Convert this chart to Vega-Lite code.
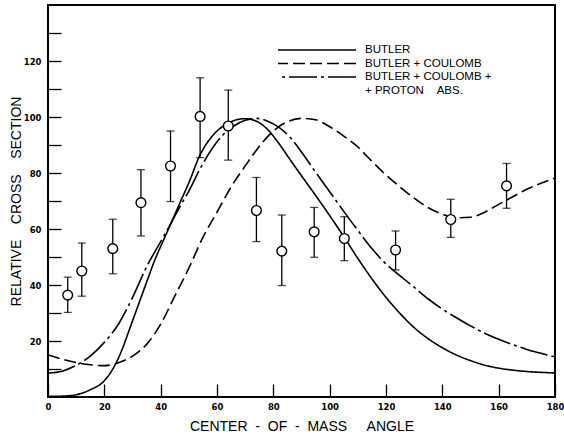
{
  "$schema": "https://vega.github.io/schema/vega-lite/v6.json",
  "width": 507,
  "height": 392,
  "autosize": {"type": "none"},
  "padding": {"left": 48, "top": 5, "right": 9, "bottom": 39},
  "background": "white",
  "datasets": {
    "curves": [
      {"model": "BUTLER", "angle": 0, "value": 0.2},
      {"model": "BUTLER", "angle": 5, "value": 0.3},
      {"model": "BUTLER", "angle": 10, "value": 0.8},
      {"model": "BUTLER", "angle": 15, "value": 2.6},
      {"model": "BUTLER", "angle": 20, "value": 5.8},
      {"model": "BUTLER", "angle": 23, "value": 10},
      {"model": "BUTLER", "angle": 26, "value": 16.2},
      {"model": "BUTLER", "angle": 29, "value": 24.4},
      {"model": "BUTLER", "angle": 32, "value": 32.7},
      {"model": "BUTLER", "angle": 35, "value": 41},
      {"model": "BUTLER", "angle": 38, "value": 49.1},
      {"model": "BUTLER", "angle": 41, "value": 56},
      {"model": "BUTLER", "angle": 44, "value": 62.8},
      {"model": "BUTLER", "angle": 47, "value": 69.7},
      {"model": "BUTLER", "angle": 50, "value": 76.5},
      {"model": "BUTLER", "angle": 54, "value": 86.5},
      {"model": "BUTLER", "angle": 58, "value": 92.8},
      {"model": "BUTLER", "angle": 62, "value": 96.6},
      {"model": "BUTLER", "angle": 66, "value": 98.7},
      {"model": "BUTLER", "angle": 70, "value": 99.4},
      {"model": "BUTLER", "angle": 74, "value": 98.5},
      {"model": "BUTLER", "angle": 78, "value": 95.5},
      {"model": "BUTLER", "angle": 82, "value": 90.5},
      {"model": "BUTLER", "angle": 86, "value": 84.7},
      {"model": "BUTLER", "angle": 90, "value": 79},
      {"model": "BUTLER", "angle": 95, "value": 72},
      {"model": "BUTLER", "angle": 100, "value": 64.8},
      {"model": "BUTLER", "angle": 105, "value": 57.3},
      {"model": "BUTLER", "angle": 110, "value": 49.5},
      {"model": "BUTLER", "angle": 115, "value": 42.2},
      {"model": "BUTLER", "angle": 120, "value": 35.6},
      {"model": "BUTLER", "angle": 125, "value": 29.8},
      {"model": "BUTLER", "angle": 130, "value": 24.8},
      {"model": "BUTLER", "angle": 135, "value": 20.8},
      {"model": "BUTLER", "angle": 140, "value": 17.6},
      {"model": "BUTLER", "angle": 145, "value": 15},
      {"model": "BUTLER", "angle": 150, "value": 13},
      {"model": "BUTLER", "angle": 155, "value": 11.4},
      {"model": "BUTLER", "angle": 160, "value": 10.3},
      {"model": "BUTLER", "angle": 165, "value": 9.6},
      {"model": "BUTLER", "angle": 170, "value": 9.1},
      {"model": "BUTLER", "angle": 175, "value": 8.8},
      {"model": "BUTLER", "angle": 180, "value": 8.6},

      {"model": "BUTLER + COULOMB", "angle": 0, "value": 15},
      {"model": "BUTLER + COULOMB", "angle": 5, "value": 13.5},
      {"model": "BUTLER + COULOMB", "angle": 10, "value": 12.3},
      {"model": "BUTLER + COULOMB", "angle": 15, "value": 11.5},
      {"model": "BUTLER + COULOMB", "angle": 20, "value": 11.2},
      {"model": "BUTLER + COULOMB", "angle": 25, "value": 12.2},
      {"model": "BUTLER + COULOMB", "angle": 30, "value": 14.6},
      {"model": "BUTLER + COULOMB", "angle": 35, "value": 18.8},
      {"model": "BUTLER + COULOMB", "angle": 40, "value": 26},
      {"model": "BUTLER + COULOMB", "angle": 45, "value": 36},
      {"model": "BUTLER + COULOMB", "angle": 50, "value": 46},
      {"model": "BUTLER + COULOMB", "angle": 55, "value": 57},
      {"model": "BUTLER + COULOMB", "angle": 60, "value": 66},
      {"model": "BUTLER + COULOMB", "angle": 65, "value": 75},
      {"model": "BUTLER + COULOMB", "angle": 70, "value": 82.5},
      {"model": "BUTLER + COULOMB", "angle": 75, "value": 89.5},
      {"model": "BUTLER + COULOMB", "angle": 80, "value": 95},
      {"model": "BUTLER + COULOMB", "angle": 85, "value": 98.3},
      {"model": "BUTLER + COULOMB", "angle": 90, "value": 99.5},
      {"model": "BUTLER + COULOMB", "angle": 95, "value": 99},
      {"model": "BUTLER + COULOMB", "angle": 100, "value": 96.5},
      {"model": "BUTLER + COULOMB", "angle": 105, "value": 93.2},
      {"model": "BUTLER + COULOMB", "angle": 110, "value": 89.3},
      {"model": "BUTLER + COULOMB", "angle": 115, "value": 84.2},
      {"model": "BUTLER + COULOMB", "angle": 120, "value": 79.3},
      {"model": "BUTLER + COULOMB", "angle": 125, "value": 75},
      {"model": "BUTLER + COULOMB", "angle": 130, "value": 71},
      {"model": "BUTLER + COULOMB", "angle": 135, "value": 67.6},
      {"model": "BUTLER + COULOMB", "angle": 140, "value": 65.3},
      {"model": "BUTLER + COULOMB", "angle": 145, "value": 64},
      {"model": "BUTLER + COULOMB", "angle": 150, "value": 64.2},
      {"model": "BUTLER + COULOMB", "angle": 155, "value": 66},
      {"model": "BUTLER + COULOMB", "angle": 160, "value": 68.8},
      {"model": "BUTLER + COULOMB", "angle": 165, "value": 71.5},
      {"model": "BUTLER + COULOMB", "angle": 170, "value": 74.2},
      {"model": "BUTLER + COULOMB", "angle": 175, "value": 76.3},
      {"model": "BUTLER + COULOMB", "angle": 180, "value": 78.2},

      {"model": "BUTLER + COULOMB + PROTON ABS.", "angle": 0, "value": 8.5},
      {"model": "BUTLER + COULOMB + PROTON ABS.", "angle": 5, "value": 9.2},
      {"model": "BUTLER + COULOMB + PROTON ABS.", "angle": 10, "value": 11.3},
      {"model": "BUTLER + COULOMB + PROTON ABS.", "angle": 15, "value": 14.6},
      {"model": "BUTLER + COULOMB + PROTON ABS.", "angle": 20, "value": 19.5},
      {"model": "BUTLER + COULOMB + PROTON ABS.", "angle": 25, "value": 26},
      {"model": "BUTLER + COULOMB + PROTON ABS.", "angle": 30, "value": 35.5},
      {"model": "BUTLER + COULOMB + PROTON ABS.", "angle": 35, "value": 46.5},
      {"model": "BUTLER + COULOMB + PROTON ABS.", "angle": 40, "value": 55.5},
      {"model": "BUTLER + COULOMB + PROTON ABS.", "angle": 43, "value": 60.8},
      {"model": "BUTLER + COULOMB + PROTON ABS.", "angle": 47, "value": 68.3},
      {"model": "BUTLER + COULOMB + PROTON ABS.", "angle": 50, "value": 73.5},
      {"model": "BUTLER + COULOMB + PROTON ABS.", "angle": 54, "value": 81.5},
      {"model": "BUTLER + COULOMB + PROTON ABS.", "angle": 58, "value": 88.3},
      {"model": "BUTLER + COULOMB + PROTON ABS.", "angle": 62, "value": 93.5},
      {"model": "BUTLER + COULOMB + PROTON ABS.", "angle": 66, "value": 96.8},
      {"model": "BUTLER + COULOMB + PROTON ABS.", "angle": 70, "value": 98.8},
      {"model": "BUTLER + COULOMB + PROTON ABS.", "angle": 74, "value": 99.5},
      {"model": "BUTLER + COULOMB + PROTON ABS.", "angle": 78, "value": 98.5},
      {"model": "BUTLER + COULOMB + PROTON ABS.", "angle": 82, "value": 96.3},
      {"model": "BUTLER + COULOMB + PROTON ABS.", "angle": 86, "value": 92.7},
      {"model": "BUTLER + COULOMB + PROTON ABS.", "angle": 90, "value": 87.5},
      {"model": "BUTLER + COULOMB + PROTON ABS.", "angle": 95, "value": 80.3},
      {"model": "BUTLER + COULOMB + PROTON ABS.", "angle": 100, "value": 73.3},
      {"model": "BUTLER + COULOMB + PROTON ABS.", "angle": 105, "value": 66.3},
      {"model": "BUTLER + COULOMB + PROTON ABS.", "angle": 110, "value": 59.5},
      {"model": "BUTLER + COULOMB + PROTON ABS.", "angle": 115, "value": 53},
      {"model": "BUTLER + COULOMB + PROTON ABS.", "angle": 120, "value": 47.5},
      {"model": "BUTLER + COULOMB + PROTON ABS.", "angle": 125, "value": 43.3},
      {"model": "BUTLER + COULOMB + PROTON ABS.", "angle": 130, "value": 39.2},
      {"model": "BUTLER + COULOMB + PROTON ABS.", "angle": 135, "value": 35},
      {"model": "BUTLER + COULOMB + PROTON ABS.", "angle": 140, "value": 31.4},
      {"model": "BUTLER + COULOMB + PROTON ABS.", "angle": 145, "value": 28.3},
      {"model": "BUTLER + COULOMB + PROTON ABS.", "angle": 150, "value": 25.4},
      {"model": "BUTLER + COULOMB + PROTON ABS.", "angle": 155, "value": 22.8},
      {"model": "BUTLER + COULOMB + PROTON ABS.", "angle": 160, "value": 20.6},
      {"model": "BUTLER + COULOMB + PROTON ABS.", "angle": 165, "value": 18.7},
      {"model": "BUTLER + COULOMB + PROTON ABS.", "angle": 170, "value": 17},
      {"model": "BUTLER + COULOMB + PROTON ABS.", "angle": 175, "value": 15.6},
      {"model": "BUTLER + COULOMB + PROTON ABS.", "angle": 180, "value": 14.3}
    ],
    "measured": [
      {"angle": 7, "value": 36.4, "lo": 30.2, "hi": 42.8},
      {"angle": 12, "value": 45, "lo": 36, "hi": 55},
      {"angle": 23, "value": 53, "lo": 44, "hi": 63.5},
      {"angle": 33, "value": 69.4, "lo": 57.5, "hi": 81.2},
      {"angle": 43.5, "value": 82.5, "lo": 69.8, "hi": 95},
      {"angle": 54, "value": 100.2, "lo": 85.5, "hi": 114},
      {"angle": 64, "value": 96.8, "lo": 84.6, "hi": 109.6},
      {"angle": 74, "value": 66.6, "lo": 55.5, "hi": 78.4},
      {"angle": 83, "value": 52.1, "lo": 39.8, "hi": 65},
      {"angle": 94.5, "value": 59, "lo": 49.9, "hi": 67.7},
      {"angle": 105.2, "value": 56.6, "lo": 48.7, "hi": 64.4},
      {"angle": 123.4, "value": 52.5, "lo": 45.4, "hi": 59.3},
      {"angle": 143, "value": 63.4, "lo": 57, "hi": 70.6},
      {"angle": 162.8, "value": 75.4, "lo": 67.4, "hi": 83.4}
    ]
  },
  "resolve": {"axis": {"y": "independent"}},
  "layer": [
    {
      "data": {"name": "curves"},
      "mark": {"type": "line", "color": "black", "strokeWidth": 1.6, "interpolate": "monotone"},
      "encoding": {
        "x": {
          "field": "angle",
          "type": "quantitative",
          "title": "CENTER\u00a0 -\u00a0 OF\u00a0 -\u00a0 MASS\u00a0 \u00a0 \u00a0ANGLE",
          "scale": {"domain": [0, 180], "nice": false, "zero": false},
          "axis": {
            "values": [0, 10, 20, 30, 40, 50, 60, 70, 80, 90, 100, 110, 120, 130, 140, 150, 160, 170, 180],
            "labelExpr": "datum.value % 20 == 0 ? datum.label : ''",
            "labelPadding": 18,
            "titlePadding": 9
          }
        },
        "y": {
          "field": "value",
          "type": "quantitative",
          "title": "RELATIVE\u00a0 \u00a0 CROSS\u00a0 \u00a0 SECTION",
          "scale": {"domain": [0, 140], "nice": false},
          "axis": {
            "orient": "left",
            "values": [20, 40, 60, 80, 100, 120],
            "labelPadding": 20,
            "titlePadding": 0
          }
        },
        "strokeDash": {
          "field": "model",
          "type": "nominal",
          "scale": {
            "domain": ["BUTLER", "BUTLER + COULOMB", "BUTLER + COULOMB + PROTON ABS."],
            "range": [[1, 0], [12, 5], [28, 4, 3, 4]]
          },
          "legend": {
            "orient": "none",
            "legendX": 297,
            "legendY": 39,
            "title": null,
            "padding": 0,
            "symbolType": "M1,0H-14.6",
            "symbolSize": 100,
            "symbolStrokeWidth": 1.5,
            "symbolStrokeColor": "black",
            "symbolFillColor": "transparent",
            "labelFont": "Liberation Sans",
            "labelFontSize": 11.5,
            "labelColor": "black",
            "labelOffset": 8,
            "labelLimit": 300,
            "rowPadding": 1.5,
            "labelExpr": "datum.label == 'BUTLER + COULOMB + PROTON ABS.' ? ['BUTLER + COULOMB +', '\u00a0\u00a0\u00a0\u00a0\u00a0\u00a0\u00a0\u00a0+ PROTON\u00a0\u00a0\u00a0\u00a0ABS.'] : datum.label"
          }
        }
      }
    },
    {
      "data": {"name": "measured"},
      "mark": {"type": "errorbar", "color": "black", "thickness": 1.3, "ticks": {"size": 8}},
      "encoding": {
        "x": {"field": "angle", "type": "quantitative", "title": "CENTER\u00a0 -\u00a0 OF\u00a0 -\u00a0 MASS\u00a0 \u00a0 \u00a0ANGLE"},
        "y": {
          "field": "lo",
          "type": "quantitative",
          "axis": {"orient": "left", "values": [10, 30, 50, 70, 90, 110, 130], "labels": false, "title": null}
        },
        "y2": {"field": "hi"}
      }
    },
    {
      "data": {"name": "measured"},
      "mark": {"type": "point", "shape": "circle", "filled": true, "fill": "white", "fillOpacity": 1, "stroke": "black", "strokeWidth": 1.4, "strokeOpacity": 1, "size": 95},
      "encoding": {
        "x": {"field": "angle", "type": "quantitative", "title": "CENTER\u00a0 -\u00a0 OF\u00a0 -\u00a0 MASS\u00a0 \u00a0 \u00a0ANGLE"},
        "y": {"field": "value", "type": "quantitative", "axis": null}
      }
    }
  ],
  "config": {
    "view": {"stroke": "black", "strokeWidth": 2},
    "axis": {
      "domain": false,
      "grid": false,
      "tickSize": -13,
      "tickColor": "black",
      "tickWidth": 1.3,
      "labelFont": "DejaVu Sans",
      "labelFontWeight": "bold",
      "labelFontSize": 8.5,
      "labelColor": "black",
      "labelFlush": false,
      "titleFont": "Liberation Sans",
      "titleFontSize": 14,
      "titleFontWeight": "normal",
      "titleColor": "black"
    }
  }
}
